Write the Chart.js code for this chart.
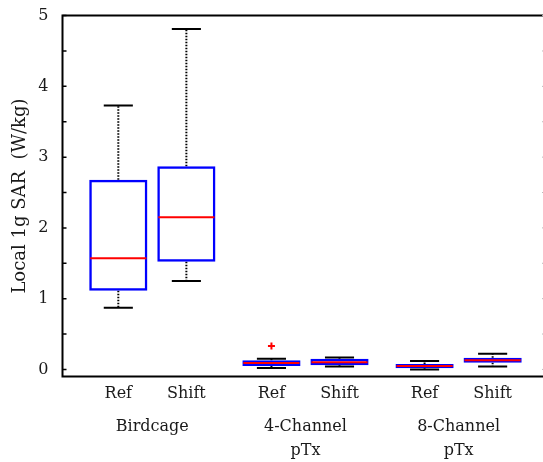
<!DOCTYPE html>
<html>
<head>
<meta charset="utf-8">
<script src="https://cdn.jsdelivr.net/npm/chart.js@4"></script>
<style>
  body { margin: 0; background: #fff; }
  #wrap { width: 543px; height: 462px; }
</style>
</head>
<body>
<div id="wrap"><canvas id="sarChart" width="543" height="462"></canvas></div>
<script>
// box positions along x and their labels
const positions = [1, 2, 3.25, 4.25, 5.5, 6.5];
const boxLabels = ["Ref", "Shift", "Ref", "Shift", "Ref", "Shift"];
const groupPositions = [1.5, 3.75, 6];
const groupLabels = ["Birdcage", ["4-Channel", "pTx"], ["8-Channel", "pTx"]];

// box statistics (W/kg)
const whiskerLow = [0.87, 1.25, 0.02, 0.04, 0.0, 0.04];
const q1 = [1.11, 1.52, 0.05, 0.06, 0.015, 0.095];
const median = [1.57, 2.15, 0.09, 0.1, 0.05, 0.13];
const q3 = [2.68, 2.87, 0.13, 0.15, 0.075, 0.165];
const whiskerHigh = [3.73, 4.81, 0.15, 0.17, 0.12, 0.22];

// outliers
const outlierX = [3.25];
const outlierY = [0.33];

const yTicks = [0, 0.5, 1, 1.5, 2, 2.5, 3, 3.5, 4, 4.5, 5];

const textColor = "#1a1a1a";
const serif = "'DejaVu Serif', serif";

const boxData = positions.map((p, i) => ({ x: p, y: [q1[i], q3[i]] }));
const outlierData = outlierX.map((x, i) => ({ x: x, y: outlierY[i] }));

// whiskers, medians, frame and inward ticks
const boxPlotExtras = {
  id: "boxPlotExtras",
  beforeDatasetsDraw(chart) {
    const ctx = chart.ctx;
    const y = chart.scales.y;
    const bars = chart.getDatasetMeta(0).data;
    ctx.save();
    bars.forEach((bar, i) => {
      const cx = bar.x;
      const half = bar.width / 4;
      const yLo = y.getPixelForValue(whiskerLow[i]);
      const yHi = y.getPixelForValue(whiskerHigh[i]);
      const yQ1 = y.getPixelForValue(q1[i]);
      const yQ3 = y.getPixelForValue(q3[i]);
      ctx.strokeStyle = "#000";
      ctx.lineWidth = 2;
      ctx.setLineDash([1.5, 1.5]);
      ctx.beginPath();
      ctx.moveTo(cx, yQ3);
      ctx.lineTo(cx, yHi);
      ctx.moveTo(cx, yQ1);
      ctx.lineTo(cx, yLo);
      ctx.stroke();
      ctx.setLineDash([]);
      ctx.lineWidth = 2;
      ctx.beginPath();
      ctx.moveTo(cx - half, yHi);
      ctx.lineTo(cx + half, yHi);
      ctx.moveTo(cx - half, yLo);
      ctx.lineTo(cx + half, yLo);
      ctx.stroke();
    });
    ctx.restore();
  },
  afterDatasetsDraw(chart) {
    const ctx = chart.ctx;
    const y = chart.scales.y;
    const area = chart.chartArea;
    const bars = chart.getDatasetMeta(0).data;
    ctx.save();
    ctx.strokeStyle = "#ff0000";
    ctx.lineWidth = 2;
    bars.forEach((bar, i) => {
      const ym = y.getPixelForValue(median[i]);
      ctx.beginPath();
      ctx.moveTo(bar.x - bar.width / 2 + 1, ym);
      ctx.lineTo(bar.x + bar.width / 2 - 1, ym);
      ctx.stroke();
    });
    // frame
    ctx.strokeStyle = "#000";
    ctx.lineWidth = 2;
    ctx.beginPath();
    ctx.moveTo(area.right, area.top);
    ctx.lineTo(area.left, area.top);
    ctx.lineTo(area.left, area.bottom);
    ctx.lineTo(area.right, area.bottom);
    ctx.stroke();
    // inward ticks (right axis sits at the image edge)
    ctx.lineWidth = 1.5;
    ctx.beginPath();
    yTicks.forEach((v) => {
      const py = y.getPixelForValue(v);
      ctx.moveTo(area.left, py);
      ctx.lineTo(area.left + 4, py);
    });
    ctx.stroke();
    ctx.strokeStyle = "#bbbbbb";
    ctx.lineWidth = 1;
    ctx.beginPath();
    yTicks.forEach((v) => {
      const py = y.getPixelForValue(v);
      ctx.moveTo(area.right, py);
      ctx.lineTo(area.right - 1, py);
    });
    ctx.stroke();
    ctx.restore();
  },
};

const ctx = document.getElementById("sarChart").getContext("2d");
const sarChart = new Chart(ctx, {
  type: "bar",
  data: {
    datasets: [
      {
        type: "bar",
        data: boxData,
        backgroundColor: "rgba(255,255,255,0)",
        borderColor: "#0000ff",
        borderWidth: 2.5,
        borderSkipped: false,
        barPercentage: 0.855,
        categoryPercentage: 1,
        order: 1,
      },
      {
        type: "scatter",
        data: outlierData,
        pointStyle: "cross",
        radius: 3.5,
        borderColor: "#ff0000",
        borderWidth: 2,
        order: 0,
      },
    ],
  },
  plugins: [boxPlotExtras],
  options: {
    responsive: false,
    animation: false,
    events: [],
    layout: {
      autoPadding: false,
      padding: { top: 14, right: 0, left: 0, bottom: 0 },
    },
    plugins: {
      legend: { display: false },
      tooltip: { enabled: false },
    },
    scales: {
      x: {
        type: "linear",
        position: "bottom",
        offset: false,
        weight: 0,
        min: 0.18,
        max: 7.24,
        grid: { display: false, offset: false },
        border: { display: false },
        afterBuildTicks: (scale) => {
          scale.ticks = positions.map((v) => ({ value: v }));
        },
        afterFit: (scale) => {
          scale.height = 30;
          scale.paddingLeft = 0;
          scale.paddingRight = 0;
        },
        ticks: {
          autoSkip: false,
          maxRotation: 0,
          padding: 0,
          color: textColor,
          font: { family: serif, size: 16 },
          callback: (v, i) => boxLabels[i],
        },
      },
      x2: {
        type: "linear",
        position: "bottom",
        offset: false,
        weight: 1,
        min: 0.18,
        max: 7.24,
        grid: { display: false, offset: false },
        border: { display: false },
        afterBuildTicks: (scale) => {
          scale.ticks = groupPositions.map((v) => ({ value: v }));
        },
        afterFit: (scale) => {
          scale.height = 55.5;
          scale.paddingLeft = 0;
          scale.paddingRight = 0;
        },
        ticks: {
          autoSkip: false,
          maxRotation: 0,
          padding: 0,
          color: textColor,
          font: { family: serif, size: 16, lineHeight: 1.5 },
          callback: (v, i) => groupLabels[i],
        },
      },
      y: {
        type: "linear",
        min: -0.1,
        max: 5,
        grid: { display: false },
        border: { display: false },
        afterBuildTicks: (scale) => {
          scale.ticks = yTicks.map((v) => ({ value: v }));
        },
        afterFit: (scale) => {
          scale.width = 62.5;
        },
        ticks: {
          padding: 6,
          color: textColor,
          font: { family: serif, size: 16 },
          callback: (v) => (Number.isInteger(v) ? String(v) : ""),
        },
        title: {
          display: true,
          text: "Local 1g SAR  (W/kg)",
          color: textColor,
          font: { family: serif, size: 18 },
          padding: { top: 10, bottom: 0 },
        },
      },
    },
  },
});
</script>
</body>
</html>
